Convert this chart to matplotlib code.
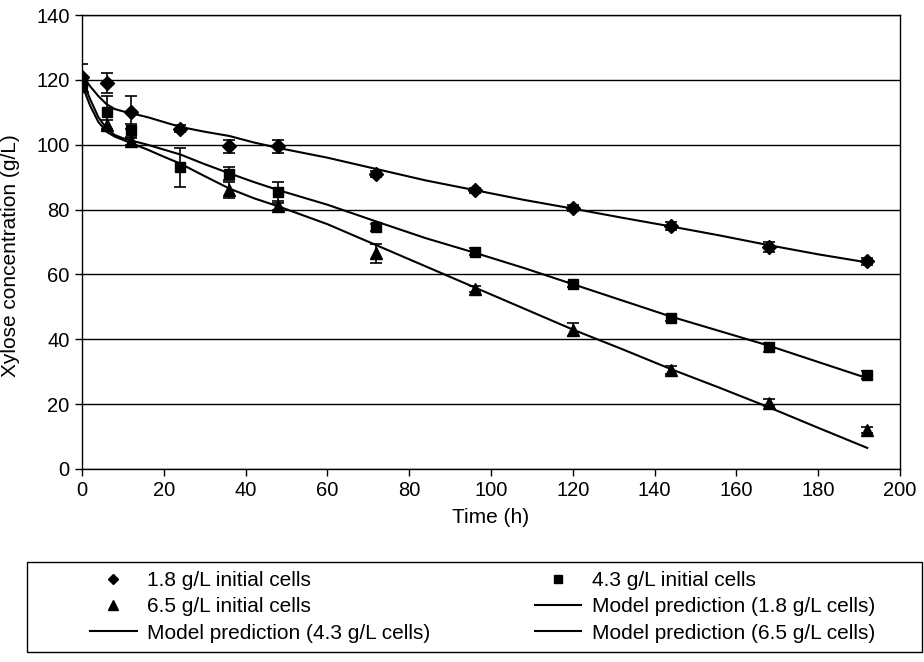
import numpy as np
import matplotlib.pyplot as plt
from matplotlib.lines import Line2D
from matplotlib.patches import Rectangle

plt.rcParams['font.family'] = ['Liberation Sans', 'DejaVu Sans']

# measured points
t_obs = [0, 6, 12, 24, 36, 48, 72, 96, 120, 144, 168, 192]
xyl_18 = [121, 119, 110, 105, 99.5, 99.5, 91, 86, 80.5, 75, 68.5, 64]
err_18 = [4, 3, 5, 1, 2, 2, 1, 0.8, 0.8, 1.2, 1.5, 1.2]
xyl_43 = [119, 110, 104.5, 93, 91, 85.5, 74.5, 67, 57, 46.5, 37.5, 29]
err_43 = [2, 5, 2, 6, 2, 3, 1.2, 1, 0.8, 1, 1.5, 1.2]
xyl_65 = [118, 106, 101, np.nan, 86, 81, 66.5, 55.5, 43, 30.5, 20.5, 12]
err_65 = [1, 1.5, 1, 1, 2.5, 1, 3, 1, 2, 1.2, 1.2, 0.8]

# model curves
t_mod = [0, 2, 4, 6, 8, 10, 12, 16, 20, 24, 30, 36, 42, 48, 60, 72, 84, 96,
         108, 120, 132, 144, 156, 168, 180, 192]
mod_18 = [121.5, 118, 115, 112.5, 111, 110.3, 109.7, 108.5, 107, 105.5, 104,
          102.7, 100.7, 99, 96, 92.5, 89, 86, 83, 80.3, 77.5, 74.8, 72, 69,
          66.2, 63.7]
mod_43 = [120, 114, 108.5, 105, 103, 102, 101.3, 100, 98.5, 97, 94, 91.2,
          88.5, 86, 81.5, 76.3, 71.2, 66.7, 62, 57, 52, 47, 42.5, 38, 33, 28]
mod_65 = [118.5, 112, 107, 104, 102.5, 101.5, 100.5, 98.5, 96.3, 94.2, 90.3,
          86.5, 83.5, 81, 75.5, 69, 62.5, 56, 49.5, 43, 37, 30.8, 25, 19,
          12.7, 6.5]

fig = plt.figure(figsize=(9.24, 6.62), dpi=100)
ax = fig.add_axes([82/924, 1-469/662, 818/924, 454/662])

ax.plot(t_mod, mod_18, color='black', lw=1.5)
ax.plot(t_mod, mod_43, color='black', lw=1.5)
ax.plot(t_mod, mod_65, color='black', lw=1.5)

ax.errorbar(t_obs, xyl_18, yerr=err_18, fmt='D', ms=7, color='black',
            ecolor='black', elinewidth=1.2, capsize=4.5, capthick=1.2)
ax.errorbar(t_obs, xyl_43, yerr=err_43, fmt='s', ms=7, color='black',
            ecolor='black', elinewidth=1.2, capsize=4.5, capthick=1.2)
ax.errorbar(t_obs, xyl_65, yerr=err_65, fmt='^', ms=8, color='black',
            ecolor='black', elinewidth=1.2, capsize=4.5, capthick=1.2)

ax.set_xlim(0, 200)
ax.set_ylim(0, 140)
ax.set_xticks(np.arange(0, 201, 20))
ax.set_yticks(np.arange(0, 141, 20))
ax.yaxis.grid(True, color='black', lw=1)
ax.set_axisbelow(True)
for s in ax.spines.values():
    s.set_color('black')
    s.set_linewidth(1)
ax.tick_params(direction='out', length=5, width=1, labelsize=14.5, pad=4)

ax.set_xlabel('Time (h)', fontsize=15)
ax.set_ylabel('Xylose concentration (g/L)', fontsize=15)
ax.xaxis.set_label_coords(0.5, -0.086)
ax.yaxis.set_label_coords(-0.076, 0.47)

# legend box like the original
fig.add_artist(Rectangle((27/924, 1-652/662), 895/924, 90/662,
                         transform=fig.transFigure, fill=False,
                         ec='black', lw=1))

h_18 = Line2D([], [], marker='D', ms=5.5, color='black', ls='none')
h_43 = Line2D([], [], marker='s', ms=6, color='black', ls='none')
h_65 = Line2D([], [], marker='^', ms=6.5, color='black', ls='none')
h_m18 = Line2D([], [], color='black', lw=1.5)
h_m43 = Line2D([], [], color='black', lw=1.5)
h_m65 = Line2D([], [], color='black', lw=1.5)

handles = [h_18, h_65, h_m43, h_43, h_m18, h_m65]
labels = ['1.8 g/L initial cells', '6.5 g/L initial cells',
          'Model prediction (4.3 g/L cells)', '4.3 g/L initial cells',
          'Model prediction (1.8 g/L cells)', 'Model prediction (6.5 g/L cells)']
fig.legend(handles, labels, ncol=2, loc='upper left',
           bbox_to_anchor=(90/924, 1-571/662), frameon=False, borderpad=0,
           borderaxespad=0, handlelength=2.24, handletextpad=0.5,
           columnspacing=5, labelspacing=0.35, fontsize=15)

fig.savefig('out.png', dpi=100)
